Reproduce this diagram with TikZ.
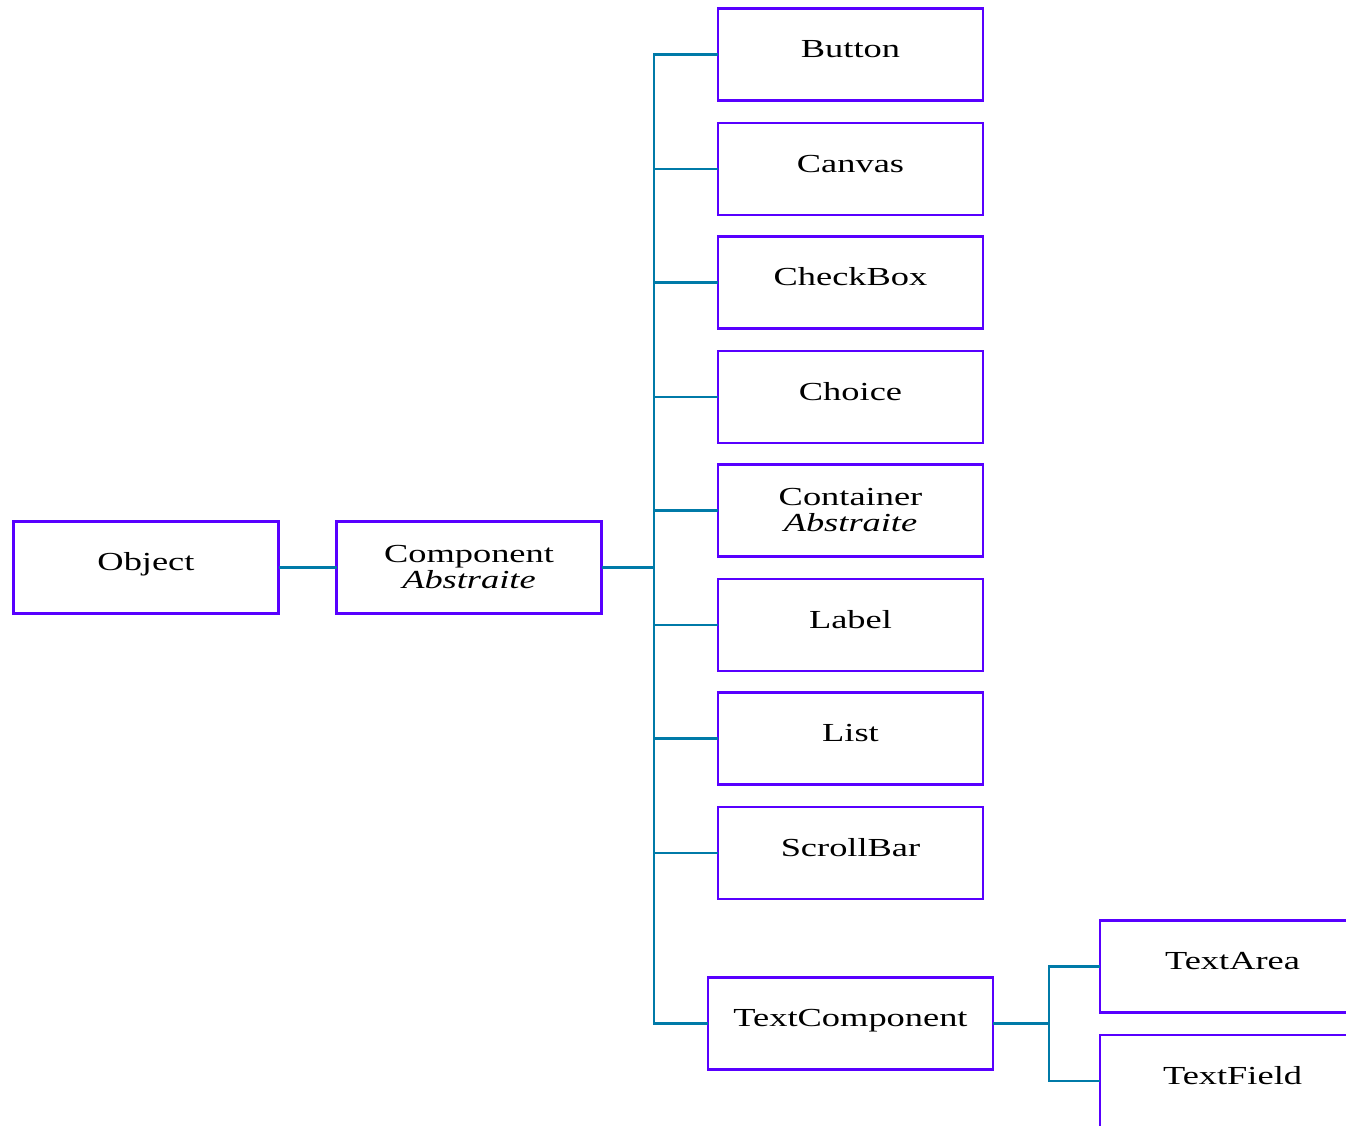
\documentclass[tikz,border=0pt]{standalone}
\usepackage{fontspec}
\setmainfont{Liberation Serif}[FakeStretch=1.4]
\usetikzlibrary{positioning}
\definecolor{boxviolet}{RGB}{88,0,255}
\definecolor{linkteal}{RGB}{0,122,168}

\begin{document}
\begin{tikzpicture}[x=1pt,y=-1pt,
        classe/.style={draw=boxviolet, line width=2.4pt, minimum width=265pt, minimum height=92pt,
            inner sep=0pt, align=center, font=\fontsize{26}{26}\selectfont},
        simple/.style={classe, text height=18pt, text depth=12pt},
        lien/.style={draw=linkteal, line width=2.4pt, line cap=rect}]
    \useasboundingbox (0,0) rectangle (1346,1125);
    \clip (0,0) rectangle (1346,1125);

    \node[simple] (object) at (146,567.5) {Object};
    \node[classe] (component) at (469,567.5) {Component\\\textit{Abstraite}};
    \foreach \nom/\texte/\y/\sty in {button/Button/54.5/simple, canvas/Canvas/169/simple,
            checkbox/CheckBox/282.5/simple, choice/Choice/397/simple,
            container/{Container\\\textit{Abstraite}}/510.5/classe, label/Label/625/simple,
            list/List/738.5/simple, scrollbar/ScrollBar/853/simple}
        \node[\sty] (\nom) at (850.5,\y) {\texte};
    \node[simple, minimum width=285pt] (textcomponent) at (850.5,1023.5) {TextComponent};
    \node[simple] (textarea) at (1232.5,966.5) {TextArea};
    \node[simple] (textfield) at (1232.5,1081) {TextField};

    \coordinate (tronc) at (654,567.5);
    \coordinate (branche) at (1049,1023.5);

    \draw[lien] (object) -- (component);
    \draw[lien] (component) -- (tronc);
    \draw[lien] (tronc |- button.west) -- (tronc |- textcomponent.west);
    \foreach \nom in {button,canvas,checkbox,choice,container,label,list,scrollbar,textcomponent}
        \draw[lien] (tronc |- \nom.west) -- (\nom.west);
    \draw[lien] (textcomponent) -- (branche);
    \draw[lien] (textarea.west) -- (branche |- textarea.west) -- (branche |- textfield.west) -- (textfield.west);
\end{tikzpicture}
\end{document}
